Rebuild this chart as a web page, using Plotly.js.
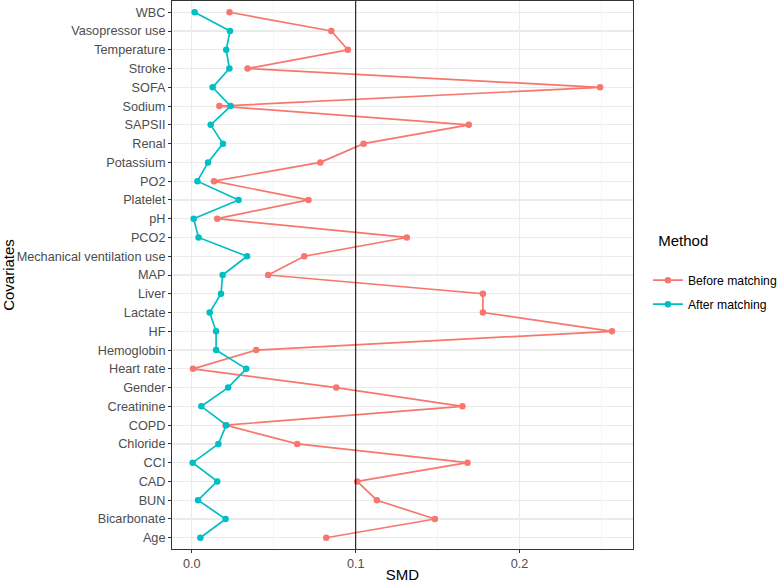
<!DOCTYPE html>
<html>
<head>
<meta charset="utf-8">
<script src="https://cdn.plot.ly/plotly-3.0.1.min.js"></script>
<style>
  html, body { margin: 0; padding: 0; background: #ffffff; }
  #chart { width: 778px; height: 583px; }
</style>
</head>
<body>
<div id="chart"></div>
<script>
// Covariates, listed from the bottom row (Age) to the top row (WBC)
const covariates = [
  "Age", "Bicarbonate", "BUN", "CAD", "CCI", "Chloride", "COPD", "Creatinine",
  "Gender", "Heart rate", "Hemoglobin", "HF", "Lactate", "Liver", "MAP",
  "Mechanical ventilation use", "PCO2", "pH", "Platelet", "PO2", "Potassium",
  "Renal", "SAPSII", "Sodium", "SOFA", "Stroke", "Temperature",
  "Vasopressor use", "WBC"
];

// Standardised mean differences before matching
const smdBefore = [
  0.0820, 0.1483, 0.1129, 0.1009, 0.1682, 0.0643, 0.0206, 0.1651,
  0.0881, 0.0007, 0.0393, 0.2564, 0.1776, 0.1776, 0.0466,
  0.0686, 0.1312, 0.0155, 0.0712, 0.0135, 0.0784,
  0.1048, 0.1690, 0.0168, 0.2491, 0.0340, 0.0952,
  0.0851, 0.0230
];

// Standardised mean differences after matching
const smdAfter = [
  0.0052, 0.0206, 0.0038, 0.0155, 0.0005, 0.0162, 0.0210, 0.0058,
  0.0221, 0.0332, 0.0148, 0.0148, 0.0109, 0.0178, 0.0188,
  0.0337, 0.0041, 0.0011, 0.0285, 0.0034, 0.0099,
  0.0190, 0.0115, 0.0237, 0.0127, 0.0229, 0.0210,
  0.0233, 0.0017
];

const seriesNames = ["Before matching", "After matching"];
const seriesColors = ["#F8766D", "#00BFC4"];
const xTickValues = [0, 0.1, 0.2];
const xTickLabels = ["0.0", "0.1", "0.2"];
const threshold = 0.1;

const FONT = "Liberation Sans, Arial, Helvetica, sans-serif";

function series(values, i) {
  return {
    type: "scatter",
    mode: "lines+markers",
    name: seriesNames[i],
    legendgroup: "g" + i,
    x: values,
    y: covariates,
    line: { color: seriesColors[i], width: 1.7 },
    marker: { color: seriesColors[i], size: 6.5 },
    hoverinfo: "x+y+name"
  };
}

const data = [series(smdBefore, 0), series(smdAfter, 1)];

const layout = {
  width: 778,
  height: 583,
  margin: { l: 172, r: 145, t: 1, b: 34, autoexpand: false },
  paper_bgcolor: "#ffffff",
  plot_bgcolor: "#ffffff",
  font: { family: FONT, color: "#000000" },
  xaxis: {
    range: [-0.0121, 0.2692],
    tickvals: xTickValues,
    ticktext: xTickLabels,
    ticks: "outside",
    ticklen: 3,
    tickwidth: 1,
    tickcolor: "#333333",
    tickfont: { family: FONT, size: 12.7, color: "#4D4D4D" },
    showgrid: true,
    gridcolor: "#EBEBEB",
    gridwidth: 1.2,
    minor: { tickvals: [0.05, 0.15, 0.25], showgrid: true, gridcolor: "#F2F2F2", gridwidth: 0.7, ticks: "" },
    zeroline: false,
    showline: true,
    mirror: true,
    linecolor: "#333333",
    linewidth: 1,
    automargin: false,
    title: { text: "SMD", font: { family: FONT, size: 15, color: "#000000" }, standoff: 5 }
  },
  yaxis: {
    type: "category",
    categoryorder: "array",
    categoryarray: covariates,
    range: [-0.6, covariates.length - 0.4],
    ticks: "outside",
    ticklen: 3,
    tickwidth: 1,
    tickcolor: "#333333",
    tickfont: { family: FONT, size: 12.7, color: "#4D4D4D" },
    showgrid: true,
    gridcolor: "#EBEBEB",
    gridwidth: 1.2,
    zeroline: false,
    showline: true,
    mirror: true,
    linecolor: "#333333",
    linewidth: 1,
    automargin: false,
    title: { text: "Covariates", font: { family: FONT, size: 15, color: "#000000" }, standoff: 3 }
  },
  shapes: [{
    type: "line",
    xref: "x", yref: "paper",
    x0: threshold, x1: threshold, y0: 0, y1: 1,
    line: { color: "#000000", width: 1 },
    layer: "above"
  }],
  legend: {
    title: {
      text: "&nbsp;&nbsp;Method<br>&nbsp;",
      font: { family: FONT, size: 15, color: "#000000" }
    },
    font: { family: FONT, size: 12.2, color: "#000000" },
    xref: "container",
    yref: "container",
    x: 0.8328,
    xanchor: "left",
    y: 0.6112,
    yanchor: "top",
    bgcolor: "rgba(0,0,0,0)",
    tracegroupgap: 5,
    itemwidth: 30
  },
  showlegend: true
};

Plotly.newPlot("chart", data, layout, { displayModeBar: false, staticPlot: true });
</script>
</body>
</html>
